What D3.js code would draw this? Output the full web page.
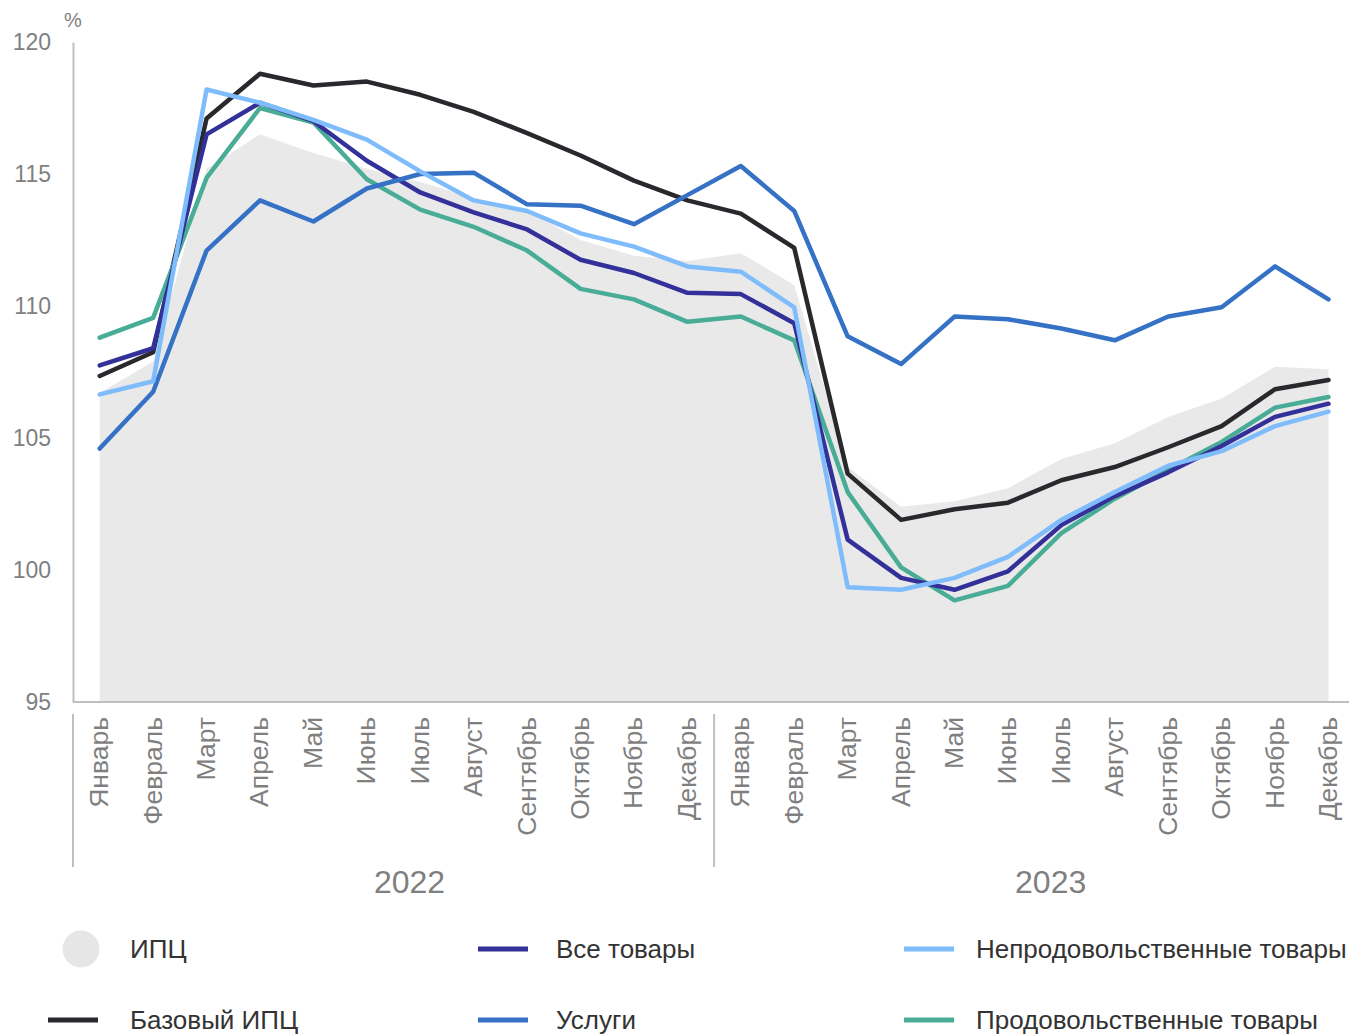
<!DOCTYPE html>
<html>
<head>
<meta charset="utf-8">
<script src="https://cdn.jsdelivr.net/npm/d3@7"></script>
<style>
  body { margin: 0; background: #fff; }
  svg { display: block; font-family: "Liberation Sans", Arial, sans-serif; }
</style>
</head>
<body>
<svg id="chart" width="1349" height="1034"></svg>
<script>
var months = ["Январь", "Февраль", "Март", "Апрель", "Май", "Июнь", "Июль", "Август", "Сентябрь", "Октябрь", "Ноябрь", "Декабрь"]
var years = ["2022", "2023"]
var yTicks = [95, 100, 105, 110, 115, 120]

// ИПЦ (area)
var cpi = [106.7, 107.9, 115.2, 116.5, 115.8, 115.2, 114.7, 114.1, 113.6, 112.5, 111.9, 111.7,
           112.0, 110.8, 103.9, 102.4, 102.6, 103.1, 104.2, 104.8, 105.8, 106.5, 107.7, 107.6]
// Базовый ИПЦ
var coreCpi = [107.35, 108.25, 117.1, 118.8, 118.35, 118.5, 118.0, 117.35, 116.55, 115.7, 114.75, 114.0,
               113.5, 112.2, 103.65, 101.9, 102.3, 102.55, 103.4, 103.9, 104.65, 105.45, 106.85, 107.2]
// Все товары
var allGoods = [107.75, 108.4, 116.5, 117.7, 117.0, 115.5, 114.3, 113.55, 112.9, 111.75, 111.25, 110.5,
                110.45, 109.35, 101.15, 99.7, 99.25, 99.95, 101.7, 102.8, 103.7, 104.7, 105.8, 106.3]
// Услуги
var services = [104.6, 106.75, 112.1, 114.0, 113.2, 114.45, 115.0, 115.05, 113.85, 113.8, 113.1, 114.2,
                115.3, 113.6, 108.85, 107.8, 109.6, 109.5, 109.15, 108.7, 109.6, 109.95, 111.5, 110.25]
// Непродовольственные товары
var nonFood = [106.65, 107.15, 118.2, 117.7, 117.05, 116.3, 115.1, 114.0, 113.6, 112.75, 112.25, 111.5,
               111.3, 109.95, 99.35, 99.25, 99.7, 100.5, 101.9, 102.95, 103.95, 104.5, 105.45, 106.0]
// Продовольственные товары
var food = [108.8, 109.55, 114.85, 117.5, 116.95, 114.8, 113.65, 113.0, 112.1, 110.65, 110.25, 109.4,
            109.6, 108.7, 102.95, 100.1, 98.85, 99.4, 101.4, 102.7, 103.8, 104.85, 106.15, 106.55]

var svg = d3.select("#chart")

var idx = d3.range(24)
var x = d3.scaleBand()
    .domain(idx)
    .range([73, 1355.2])
var cx = function (i) { return x(i) + x.bandwidth() / 2 }

var y = d3.scaleLinear()
    .domain([95, 120])
    .range([702, 42])

var grey = "#bfbfbf"
var labelGrey = "#7f7f7f"

// area ИПЦ
svg.append("path")
    .datum(cpi)
    .attr("fill", "#e9e9e9")
    .attr("d", d3.area()
        .x(function (d, i) { return cx(i) })
        .y0(y(95))
        .y1(function (d) { return y(d) }))

// Y axis
var yAxis = svg.append("g")
    .attr("transform", "translate(73,0)")
    .call(d3.axisLeft(y).tickValues(yTicks).tickSize(0).tickPadding(22))
yAxis.select(".domain").attr("stroke", grey).attr("stroke-width", 2)
yAxis.selectAll("text")
    .attr("fill", labelGrey)
    .style("font-size", "23px")
    .style("font-family", "Liberation Sans, Arial, sans-serif")

svg.append("text")
    .attr("x", 73)
    .attr("y", 27)
    .attr("text-anchor", "middle")
    .attr("fill", labelGrey)
    .style("font-size", "20px")
    .text("%")

// X axis line
svg.append("line")
    .attr("x1", 73).attr("x2", 1349)
    .attr("y1", y(95)).attr("y2", y(95))
    .attr("stroke", grey).attr("stroke-width", 2)

// month labels
svg.append("g")
    .selectAll("text")
    .data(idx)
    .join("text")
    .attr("transform", function (i) { return "translate(" + (cx(i) + 8.5) + ",717) rotate(-90)" })
    .attr("text-anchor", "end")
    .attr("fill", labelGrey)
    .style("font-size", "26.5px")
    .text(function (i) { return months[i % 12] })

// year separators
svg.append("g")
    .selectAll("line")
    .data([0, 12])
    .join("line")
    .attr("x1", function (i) { return x(i) })
    .attr("x2", function (i) { return x(i) })
    .attr("y1", 714)
    .attr("y2", 867)
    .attr("stroke", grey)
    .attr("stroke-width", 2)

svg.append("g")
    .selectAll("text")
    .data(years)
    .join("text")
    .attr("x", function (d, k) { return (cx(k * 12) + cx(k * 12 + 11)) / 2 + 16 })
    .attr("y", 893)
    .attr("text-anchor", "middle")
    .attr("fill", labelGrey)
    .style("font-size", "32px")
    .text(function (d) { return d })

// lines
var series = [
    { name: "Базовый ИПЦ", values: coreCpi, color: "#29292d" },
    { name: "Продовольственные товары", values: food, color: "#48ac96" },
    { name: "Все товары", values: allGoods, color: "#33309a" },
    { name: "Услуги", values: services, color: "#3572c6" },
    { name: "Непродовольственные товары", values: nonFood, color: "#7fbcfc" }
]

var line = d3.line()
    .x(function (d, i) { return cx(i) })
    .y(function (d) { return y(d) })

svg.append("g")
    .selectAll("path")
    .data(series)
    .join("path")
    .attr("fill", "none")
    .attr("stroke", function (s) { return s.color })
    .attr("stroke-width", 4.5)
    .attr("stroke-linejoin", "round")
    .attr("stroke-linecap", "round")
    .attr("d", function (s) { return line(s.values) })

// legend
var legendItems = [
    { name: "ИПЦ", color: "#e6e6e6", area: true, lx: 48, tx: 130, ly: 949 },
    { name: "Базовый ИПЦ", color: "#29292d", lx: 48, tx: 130, ly: 1020 },
    { name: "Все товары", color: "#33309a", lx: 478, tx: 556, ly: 949 },
    { name: "Услуги", color: "#3572c6", lx: 478, tx: 556, ly: 1020 },
    { name: "Непродовольственные товары", color: "#7fbcfc", lx: 904, tx: 976, ly: 949 },
    { name: "Продовольственные товары", color: "#48ac96", lx: 904, tx: 976, ly: 1020 }
]

var lg = svg.append("g")
    .selectAll("g")
    .data(legendItems)
    .join("g")

lg.filter(function (d) { return d.area })
    .append("circle")
    .attr("cx", 81)
    .attr("cy", function (d) { return d.ly })
    .attr("r", 18.5)
    .attr("fill", function (d) { return d.color })

lg.filter(function (d) { return !d.area })
    .append("line")
    .attr("x1", function (d) { return d.lx })
    .attr("x2", function (d) { return d.lx + 50 })
    .attr("y1", function (d) { return d.ly })
    .attr("y2", function (d) { return d.ly })
    .attr("stroke", function (d) { return d.color })
    .attr("stroke-width", 5)

lg.append("text")
    .attr("x", function (d) { return d.tx })
    .attr("y", function (d) { return d.ly + 9 })
    .attr("fill", "#333333")
    .style("font-size", "26px")
    .text(function (d) { return d.name })
</script>
</body>
</html>
